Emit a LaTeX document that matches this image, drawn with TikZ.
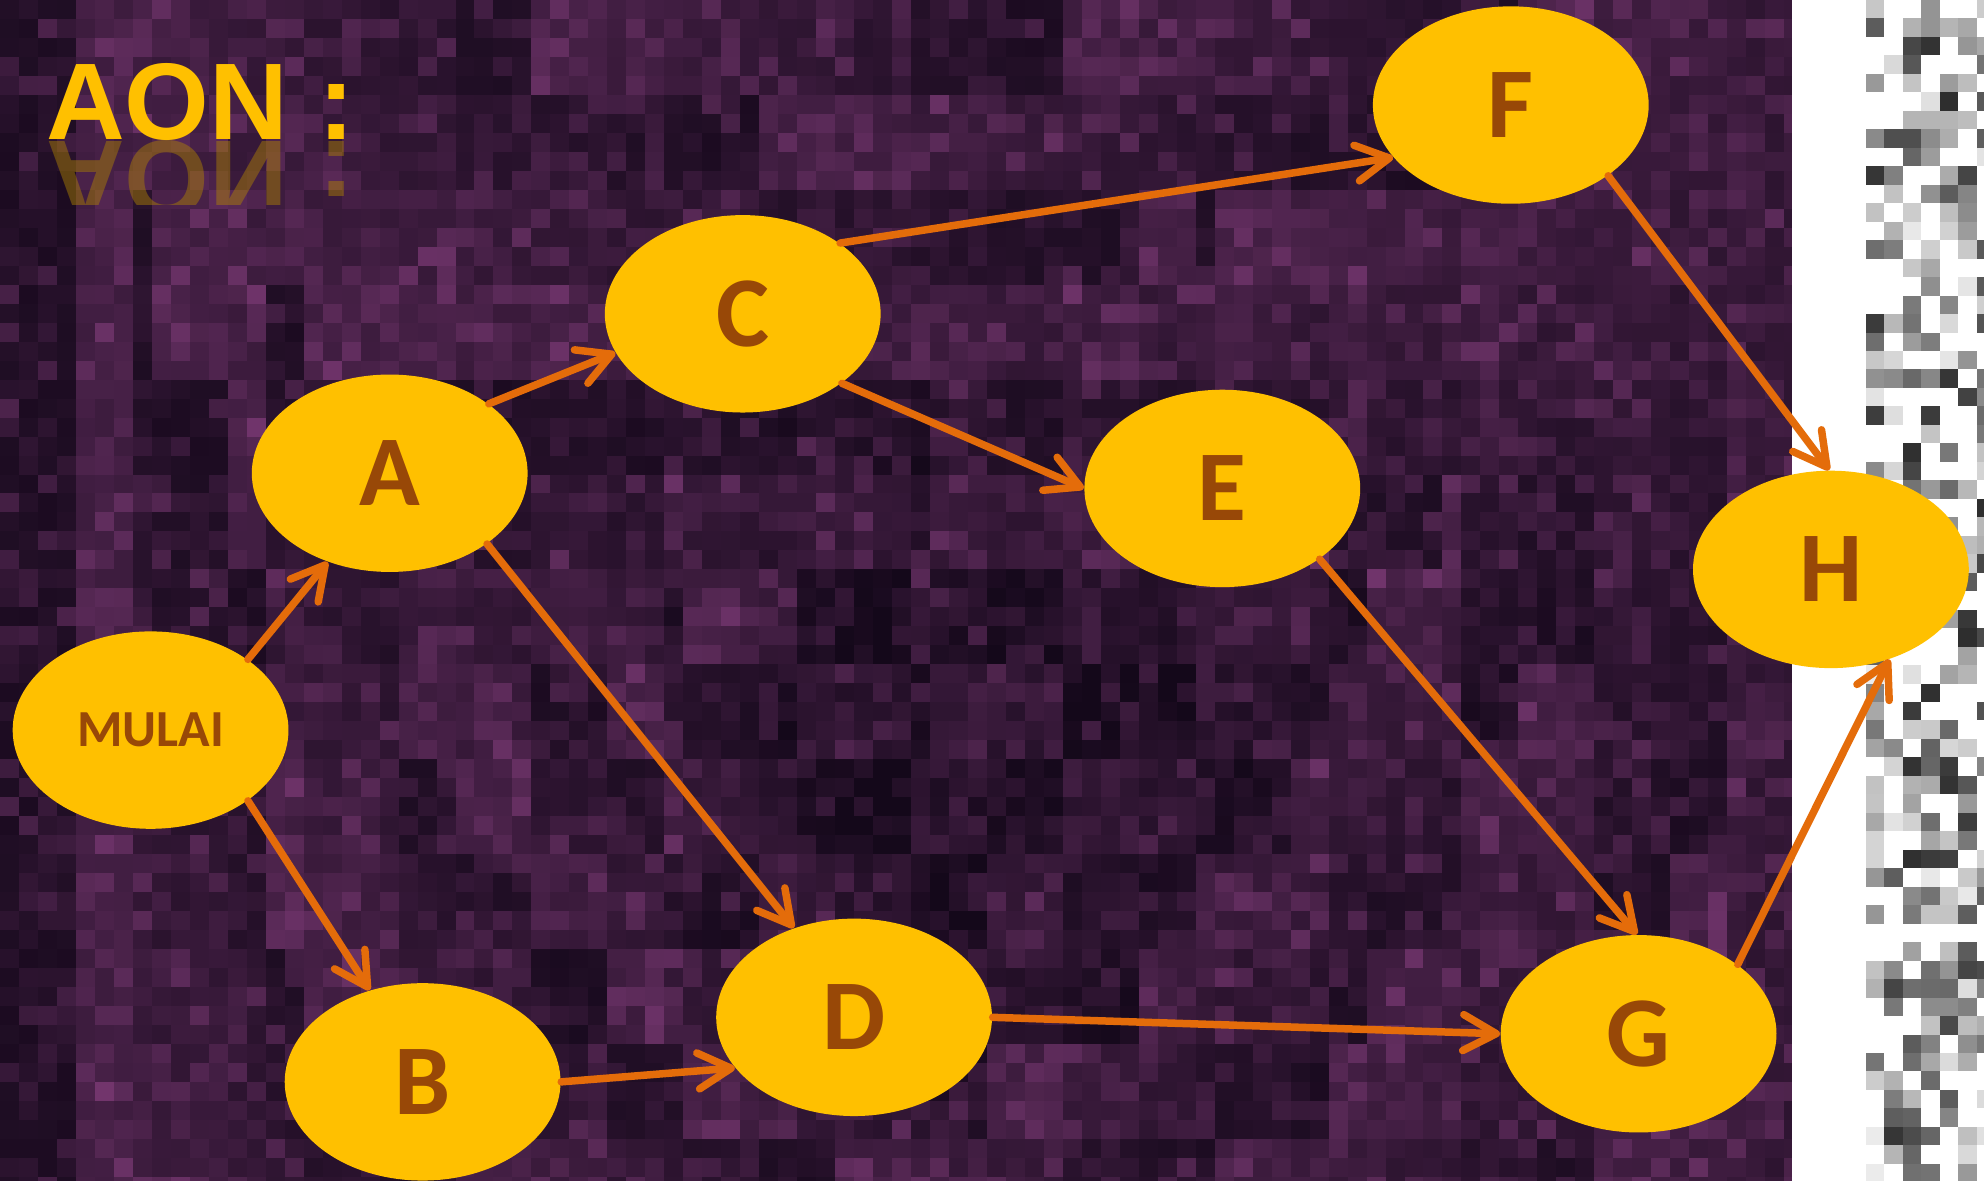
\documentclass[tikz,border=0pt]{standalone}
\usepackage{fontspec}
\newfontfamily\nodefont{Carlito}
\newfontfamily\titlefont{Liberation Sans}
\usetikzlibrary{shapes.geometric,arrows.meta}
\definecolor{nodefill}{HTML}{FFC000}
\definecolor{nodetext}{HTML}{984807}
\definecolor{arrowc}{HTML}{E46C0A}
\definecolor{pd}{RGB}{20,8,26}
\definecolor{pl}{RGB}{145,68,136}
\begin{document}
\begin{tikzpicture}[x=0.12653mm,y=-0.12653mm,
  ev/.style={ellipse, fill=nodefill, minimum width=27.58mm, minimum height=19.74mm,
    inner sep=0pt, text=nodetext, font=\nodefont\bfseries\fontsize{28.5}{28}\selectfont},
  evsmall/.style={ev, font=\nodefont\bfseries\fontsize{14.8}{15}\selectfont},
  arr/.style={draw=arrowc, line width=0.75mm, line cap=round,
    -{Straight Barb[length=3.3mm,width=3.6mm,round]}},
  ttl/.style={anchor=base west, inner sep=0pt, font=\titlefont\bfseries\fontsize{31}{31}\selectfont}]
\useasboundingbox (0,0) rectangle (1568,933);
\clip (0,0) rectangle (1568,933);
% pixelated purple background
\pgfmathsetseed{7}
\foreach \i in {0,...,94}{
  \foreach \j in {0,...,62}{
    \pgfmathtruncatemacro\r{max(0,min(100,6+44*rnd*rnd+32*mod(37*floor(\i/4)+91*floor(\j/4)+53*floor(\i/7)*floor(\j/5),13)/13-16*exp(-((\i-52)^2/260+(\j-38)^2/180))))}
    \fill[pl!\r!pd] (\i*15,\j*15) rectangle +(15.4,15.4);
  }
}
% right white strip with grey pixels
\fill[white] (1416,0) rectangle (1568,933);
\foreach \i in {0,...,6}{
  \foreach \j in {0,...,63}{
    \pgfmathtruncatemacro\g{rnd<0.45 ? 0 : 8+75*rnd}
    \fill[black!\g] (1474.5+\i*14.6,\j*14.6) rectangle +(14.8,14.8);
  }
}
% title with reflection
\node[ttl, text=nodefill] (title) at (36,110.6) {AON :};
\begin{scope}
  \clip (0,111) rectangle (400,162);
  \node[ttl, text=nodefill!70!black, opacity=0.45, yscale=-1] (titlerefl) at (36,112) {AON :};
\end{scope}
% nodes
\node[evsmall] (mulai) at (119,577) {MULAI};
\node[ev] (a) at (308,374) {A};
\node[ev] (b) at (334,855) {B};
\node[ev] (c) at (587,248) {C};
\node[ev] (d) at (675,804) {D};
\node[ev] (e) at (966,386) {E};
\node[ev] (f) at (1194,83) {F};
\node[ev] (g) at (1295,817) {G};
\node[ev] (h) at (1447,450) {H};
% connectors
\draw[arr] (mulai.36) -- (a.235);
\draw[arr] (mulai.324) -- (b.120);
\draw[arr] (a.35) -- (c.197);
\draw[arr] (a.324) -- (d.124);
\draw[arr] (c.36) -- (f.204);
\draw[arr] (c.325) -- (e.180);
\draw[arr] (b.0) -- (d.203);
\draw[arr] (d.0) -- (g.180);
\draw[arr] (e.324) -- (g.91);
\draw[arr] (f.324) -- (h.91);
\draw[arr] (g.35) -- (h.303);
\end{tikzpicture}
\end{document}
